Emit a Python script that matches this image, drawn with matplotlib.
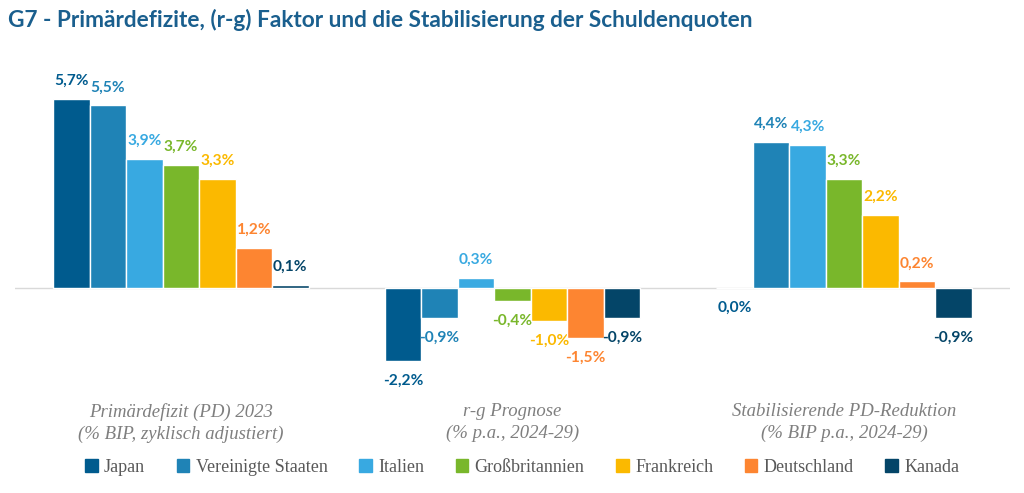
import numpy as np
import matplotlib
matplotlib.use('Agg')
import matplotlib.pyplot as plt

# data
groups = ['Primärdefizit (PD) 2023\n(% BIP, zyklisch adjustiert)',
          'r-g Prognose\n(% p.a., 2024-29)',
          'Stabilisierende PD-Reduktion\n(% BIP p.a., 2024-29)']
countries = ['Japan', 'Vereinigte Staaten', 'Italien', 'Großbritannien',
             'Frankreich', 'Deutschland', 'Kanada']
values = {
    'Japan':              [5.7, -2.2, 0.0],
    'Vereinigte Staaten': [5.5, -0.9, 4.4],
    'Italien':            [3.9, 0.3, 4.3],
    'Großbritannien':     [3.7, -0.4, 3.3],
    'Frankreich':         [3.3, -1.0, 2.2],
    'Deutschland':        [1.2, -1.5, 0.2],
    'Kanada':             [0.1, -0.9, -0.9],
}
colors = ['#005b8e', '#1f83b6', '#38a9e1', '#79b72b', '#fbb900', '#fd8531', '#044568']

title_font = 'Lato'

fig = plt.figure(figsize=(10.24, 4.93), dpi=100)
ax = fig.add_axes([15 / 1024, 1 - 390 / 493, 995 / 1024, 330 / 493])

n = len(countries)
width = 0.77 / n
x = np.arange(len(groups))

for i, c in enumerate(countries):
    pos = x - 0.385 + width * (i + 0.5)
    vals = values[c]
    ax.bar(pos, vals, width, color=colors[i], edgecolor='white', linewidth=1.0, zorder=3)
    for p, v in zip(pos, vals):
        lbl = ('%.1f%%' % v).replace('.', ',')
        off = 13 if v > 0 else -14
        ax.annotate(lbl, (p, v), xytext=(0, off), textcoords='offset points',
                    ha='center', va='center', color=colors[i], fontsize=11.2,
                    fontweight='bold', family=title_font)

ax.axhline(0, color='#d9d9d9', linewidth=1, zorder=1)
ax.set_xlim(-0.5, 2.5)
ax.set_ylim(-3.07, 6.87)
ax.axis('off')

for xi, g in zip(x, groups):
    ax.text(xi, -3.45, g, ha='center', va='top', fontsize=13.5, style='italic',
            color='#7f7f7f', family='Liberation Serif', linespacing=1.4)

handles = [plt.Rectangle((0, 0), 1, 1, color=col) for col in colors]
fig.legend(handles, countries, loc='center', bbox_to_anchor=(0.51, 1 - 467 / 493),
           ncol=n, frameon=False, handlelength=0.7, handleheight=0.7,
           handletextpad=0.35, columnspacing=1.75,
           prop={'family': 'Liberation Serif', 'size': 13}, labelcolor='#595959')

fig.text(8 / 1024, 1 - 20 / 493, 'G7 - Primärdefizite, (r-g) Faktor und die Stabilisierung der Schuldenquoten',
         ha='left', va='center', fontsize=16.3, fontweight='bold', color='#1a5f8e',
         family=title_font)

fig.savefig('out.png', dpi=100)
